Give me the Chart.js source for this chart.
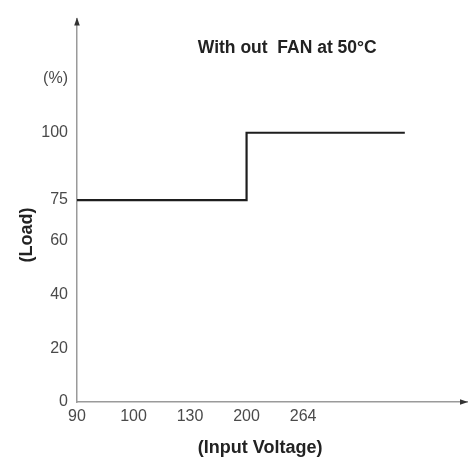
<!DOCTYPE html>
<html><head><meta charset="utf-8">
<script src="https://cdn.jsdelivr.net/npm/chart.js@4"></script>
<style>html,body{margin:0;padding:0;background:#fff}</style>
</head><body>
<canvas id="c" width="473" height="462" style="width:473px;height:462px"></canvas>
<script>
// x axis: tick labels (input voltage), placed at evenly spaced index positions
const voltageTicks = ['90', '100', '130', '200', '264'];
// y axis ticks (load %)
const loadTicks = [0, 20, 40, 60, 75, 100];
const unitTickValue = 120;       // where the "(%)" label sits
const unitLabel = '(%)';
// derating curve: x in voltage-tick index units, y in load %
const curveX = [0, 3, 3, 5.8];
const curveY = [75, 75, 100, 100];

const chartTitle = 'With out  FAN at 50\u00B0C';
const xTitle = '(Input Voltage)';
const yTitle = '(Load)';

const FONT = "'Liberation Sans', Arial, Helvetica, sans-serif";
const AXIS = '#9a9a9a';

const curve = curveX.map((x, i) => ({ x: x, y: curveY[i] }));

const overlay = {
  id: 'overlay',
  afterDraw(chart) {
    const { ctx, chartArea: a, scales } = chart;
    const xs = scales.x, ys = scales.y;
    ctx.save();
    // arrowheads
    ctx.fillStyle = '#333';
    ctx.beginPath();
    ctx.moveTo(a.left, a.top - 1);
    ctx.lineTo(a.left - 2.8, a.top + 7);
    ctx.lineTo(a.left + 2.8, a.top + 7);
    ctx.closePath(); ctx.fill();
    ctx.beginPath();
    ctx.moveTo(a.right + 1, a.bottom);
    ctx.lineTo(a.right - 7, a.bottom - 2.8);
    ctx.lineTo(a.right - 7, a.bottom + 2.8);
    ctx.closePath(); ctx.fill();
    // titles
    ctx.fillStyle = '#222';
    ctx.textAlign = 'center';
    ctx.textBaseline = 'middle';
    ctx.font = "bold 17.5px " + FONT;
    ctx.fillText(chartTitle, xs.getPixelForValue(3.72), ys.getPixelForValue(131.5));
    ctx.font = "bold 18px " + FONT;
    ctx.fillText(xTitle, xs.getPixelForValue(3.24), a.bottom + 46);
    ctx.translate(27, ys.getPixelForValue(62));
    ctx.rotate(-Math.PI / 2);
    ctx.fillText(yTitle, 0, 0);
    ctx.restore();
  }
};

new Chart(document.getElementById('c'), {
  type: 'line',
  data: {
    datasets: [{
      data: curve,
      borderColor: '#1e1e1e',
      borderWidth: 2.2,
      pointRadius: 0,
      tension: 0,
      fill: false
    }]
  },
  options: {
    responsive: false,
    animation: false,
    devicePixelRatio: 1,
    layout: { padding: { top: 14, right: 6, bottom: 0, left: 0 } },
    plugins: { legend: { display: false }, tooltip: { enabled: false }, title: { display: false } },
    scales: {
      x: {
        type: 'linear',
        min: 0,
        max: 6.9,
        afterBuildTicks(s) { s.ticks = voltageTicks.map((_, i) => ({ value: i })); },
        afterFit(s) { s.height = 60; },
        ticks: {
          autoSkip: false,
          maxRotation: 0,
          padding: 5,
          color: '#4a4a4a',
          font: { family: FONT, size: 16 },
          callback: (v) => voltageTicks[v]
        },
        grid: { display: false, drawTicks: false },
        border: { display: true, color: AXIS, width: 1.5 }
      },
      y: {
        type: 'linear',
        min: 0,
        max: 142.4,
        afterBuildTicks(s) { s.ticks = loadTicks.concat([unitTickValue]).map(v => ({ value: v })); },
        afterFit(s) { s.width = 77; },
        ticks: {
          autoSkip: false,
          padding: 9,
          color: '#4a4a4a',
          font: { family: FONT, size: 16 },
          callback: (v) => v === unitTickValue ? unitLabel : String(v)
        },
        grid: { display: false, drawTicks: false },
        border: { display: true, color: AXIS, width: 1.5 }
      }
    }
  },
  plugins: [overlay]
});
</script>
</body></html>
